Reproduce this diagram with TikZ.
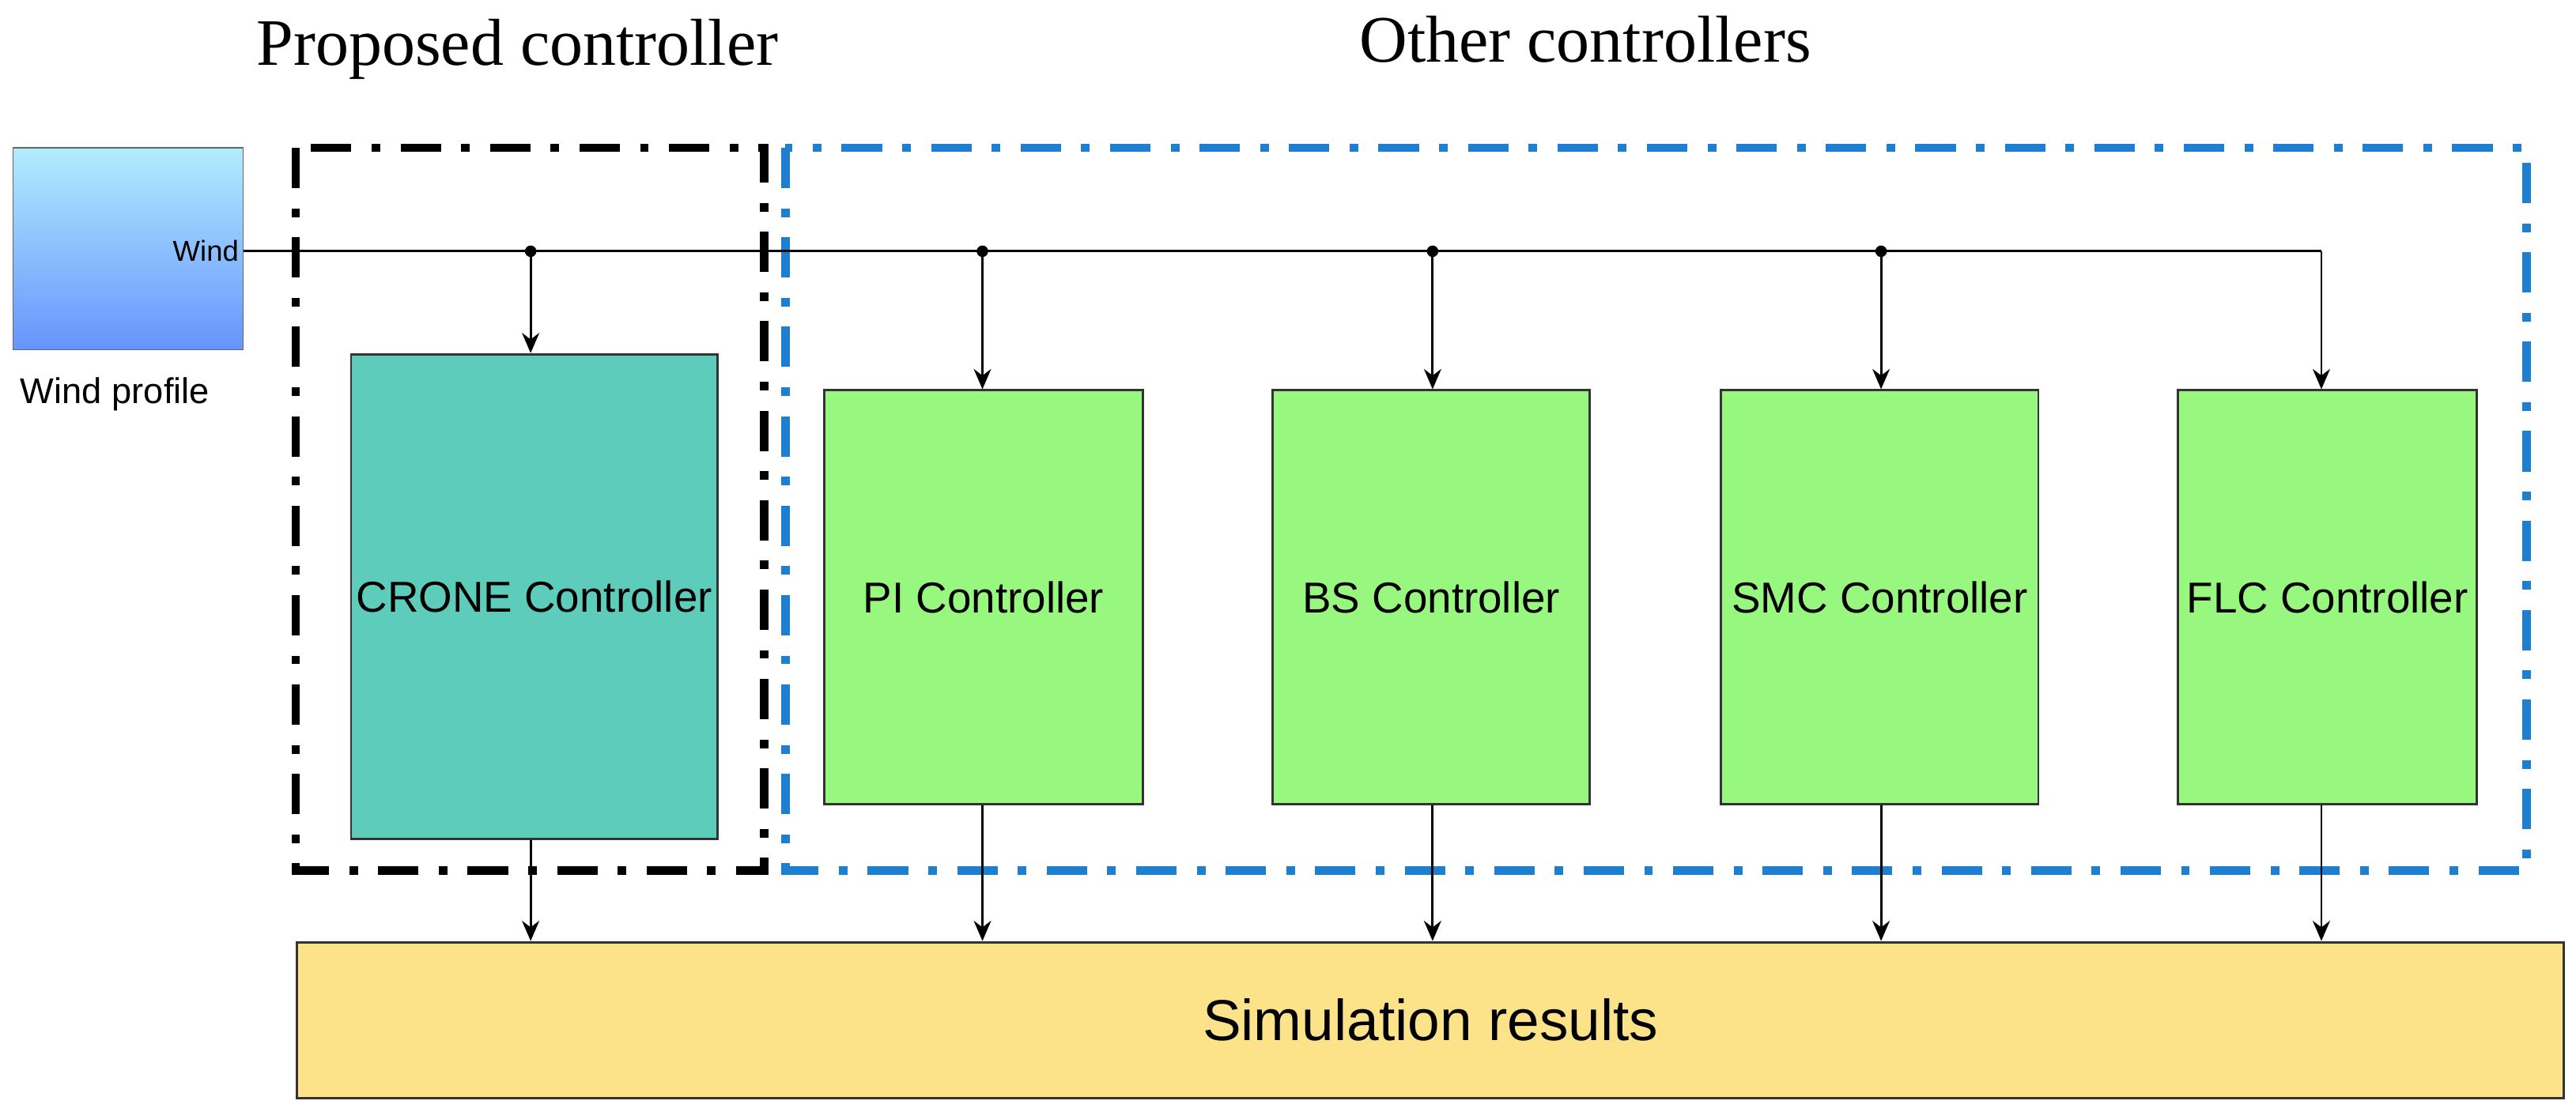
\documentclass[tikz,border=0pt]{standalone}
\usepackage{fontspec}
\setmainfont{Liberation Serif}
\newfontfamily\arial{Liberation Sans}
\usetikzlibrary{arrows.meta}
\definecolor{teal1}{HTML}{5ECCBA}
\definecolor{green1}{HTML}{98F77E}
\definecolor{yel}{HTML}{FCE38A}
\definecolor{blu}{HTML}{1E7FD0}
\begin{document}
\begin{tikzpicture}[x=0.02cm,y=-0.02cm,
 blk/.style={draw=black!80,line width=0.8pt,anchor=north west,inner sep=0pt,font=\arial\fontsize{15}{18}\selectfont},
 arr/.style={-{Stealth[length=7pt,width=6pt]},line width=0.8pt},
 dd/.style={line width=3pt,dash pattern=on 14pt off 7pt on 3pt off 7pt}]
\useasboundingbox (0,0) rectangle (1568,677);
\node[font=\fontsize{23}{28}\selectfont] (t1) at (315,30) {Proposed controller};
\node[font=\fontsize{23}{28}\selectfont] (t2) at (965,24) {Other controllers};
\draw[dd,black] (180,90) rectangle (465,530);
\draw[dd,blu] (478,90) rectangle (1538,530);
\shade[top color=blue!25!cyan!30,bottom color=blue!70!cyan!60,draw=black!60] (8,90) rectangle (148,213);
\node[blk,draw=none,anchor=east,font=\arial\fontsize{10}{12}\selectfont] (wind) at (146,153) {Wind};
\coordinate (wo) at (148,153);
\node[font=\arial\fontsize{12.4}{15}\selectfont] (wp) at (70,240) {Wind profile};
\node[blk,fill=teal1,minimum width=223*0.02cm,minimum height=295*0.02cm] (c) at (213,215) {};
\node[font=\arial\fontsize{15}{18}\selectfont] at (c.center) {CRONE Controller};
\foreach \n/\x/\w/\t in {pi/501/194/PI Controller,bs/774/193/BS Controller,smc/1047/193/SMC Controller,flc/1325/182/FLC Controller}{
 \node[blk,fill=green1,minimum width=\w*0.02cm,minimum height=252*0.02cm] (\n) at (\x,237) {};
 \node[font=\arial\fontsize{15}{18}\selectfont] at (\n.center) {\t};
}
\node[blk,fill=yel,minimum width=1380*0.02cm,minimum height=95*0.02cm] (sim) at (180,573) {};
\node[font=\arial\fontsize{20}{24}\selectfont] at (sim.center) {Simulation results};
\coordinate (j1) at (323,153);\coordinate (j2) at (598,153);
\coordinate (j3) at (872,153);\coordinate (j4) at (1145,153);
\draw[line width=0.8pt] (wo) -- (1413,153);
\draw[arr] (1413,153) -- (flc.north-|1413,0);
\foreach \j/\n in {j1/c,j2/pi,j3/bs,j4/smc}{
 \fill (\j) circle (3.5);
 \draw[arr] (\j) -- (\j|-\n.north);
}
\foreach \n/\x in {c/323,pi/598,bs/872,smc/1145,flc/1413}{
 \draw[arr] (\n.south-|\x,0) -- (sim.north-|\x,0);
}
\end{tikzpicture}
\end{document}
